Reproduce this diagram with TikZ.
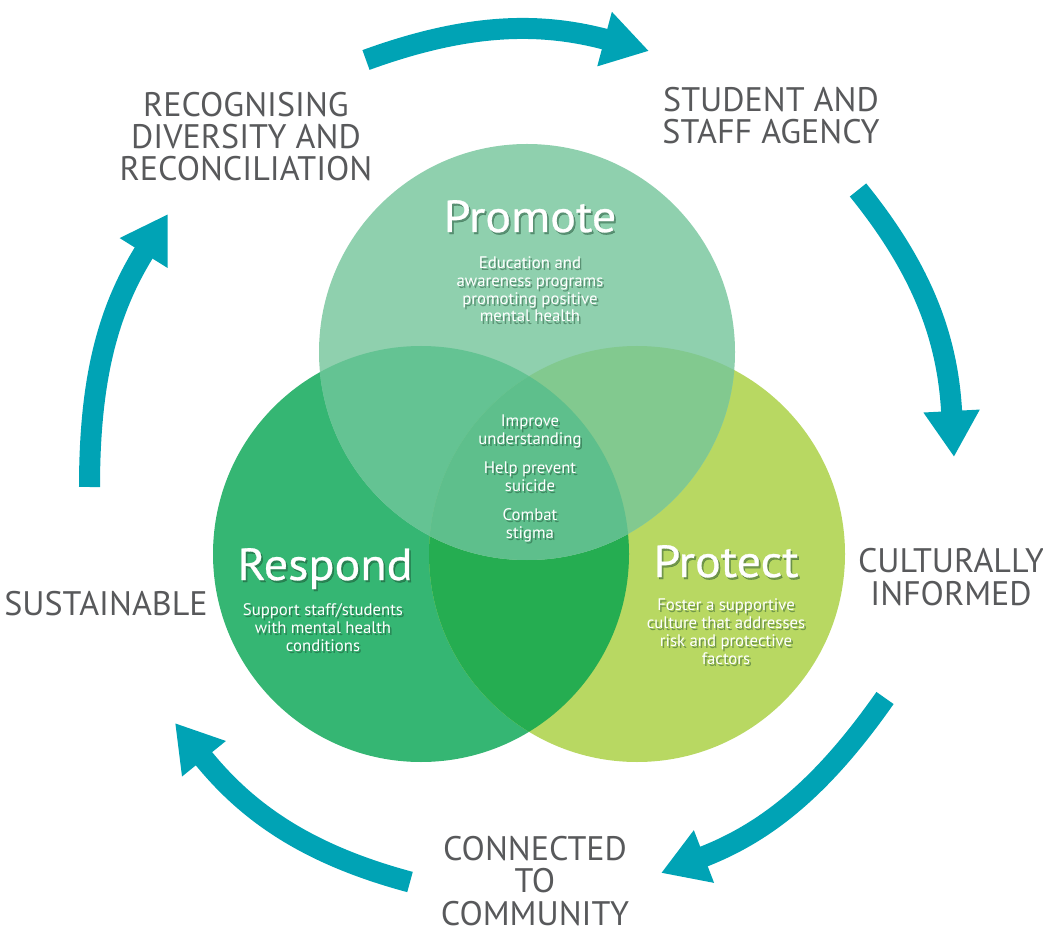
\documentclass[tikz,border=0pt]{standalone}
\usepackage{fontspec}
\setmainfont{PT Sans}
\newfontfamily\headfont[FakeStretch=1.07, FakeBold=0.6]{PT Sans}
\usetikzlibrary{arrows.meta, positioning}
\definecolor{cycleteal}{RGB}{0, 163, 181}
\definecolor{labelgray}{RGB}{88, 89, 91}
\definecolor{promotemint}{RGB}{143, 208, 174}
\definecolor{respondgreen}{RGB}{53, 182, 115}
\definecolor{protectlime}{RGB}{184, 216, 98}
\definecolor{respprotgreen}{RGB}{37, 173, 81}
\definecolor{promrespgreen}{RGB}{100, 195, 147}
\definecolor{promprotgreen}{RGB}{130, 201, 143}
\definecolor{coregreen}{RGB}{94, 191, 140}
\definecolor{shadowgreen}{RGB}{25, 70, 45}

% white text with a dark shadow underneath
\newcommand{\softlabel}[4]{%
  \node[#3, text=shadowgreen, opacity=0.45, xshift=1.2pt, yshift=-1.5pt] at (#2) {#4};
  \node[#3, text=white] (#1) at (#2) {#4};
}

\begin{document}
\begin{tikzpicture}[x=0.025cm, y=0.025cm,
  cyclearrow/.style={line width=0.525cm, cycleteal, -{Triangle[length=1.15cm, width=1.325cm]}},
  outerlabel/.style={text=labelgray, font=\fontsize{24.2}{22.8}\selectfont, align=center, anchor=base, inner sep=0pt},
  heading/.style={font=\headfont\fontsize{32}{34}\selectfont, anchor=base, inner sep=0pt},
  bodytext/.style={font=\fontsize{11.9}{12.6}\selectfont, align=center, anchor=base, inner sep=0pt}]

  \useasboundingbox (0,0) rectangle (1043,935);

  % ===== three overlapping circles =====
  \coordinate (promc) at (527,583);
  \coordinate (respc) at (421,381);
  \coordinate (protc) at (637,381);

  \fill[respondgreen] (respc) circle[radius=208];
  \fill[protectlime] (protc) circle[radius=208];
  \begin{scope}
    \clip (respc) circle[radius=208];
    \fill[respprotgreen] (protc) circle[radius=208];
  \end{scope}
  \fill[promotemint] (promc) circle[radius=208];
  \begin{scope}
    \clip (promc) circle[radius=208];
    \fill[promrespgreen] (respc) circle[radius=208];
    \fill[promprotgreen] (protc) circle[radius=208];
    \clip (respc) circle[radius=208];
    \fill[coregreen] (protc) circle[radius=208];
  \end{scope}

  % ===== cycle of arrows =====
  \coordinate (a1s) at (366,875);  \coordinate (a1e) at (649,884);
  \coordinate (a2s) at (858,745);  \coordinate (a2e) at (954,478);
  \coordinate (a3s) at (885,237);  \coordinate (a3e) at (661,62);
  \coordinate (a4s) at (410,53);   \coordinate (a4e) at (175,212);
  \coordinate (a5s) at (89.5,448); \coordinate (a5e) at (168,721);

  \draw[cyclearrow] (a1s) to[out=20, in=165] (a1e);
  \draw[cyclearrow] (a2s) to[out=-51, in=93] (a2e);
  \draw[cyclearrow] (a3s) to[out=235, in=21] (a3e);
  \draw[cyclearrow] (a4s) to[out=165, in=-51] (a4e);
  \draw[cyclearrow] (a5s) to[out=90, in=238] (a5e);

  % ===== outer principles (anchored at the last line) =====
  \node[outerlabel] (diversity) at (246,754) {RECOGNISING\\DIVERSITY AND\\RECONCILIATION};
  \node[outerlabel] (agency) at (771,791) {STUDENT AND\\STAFF AGENCY};
  \node[outerlabel] (cultural) at (951,330) {CULTURALLY\\INFORMED};
  \node[outerlabel] (sustain) at (106,320) {SUSTAINABLE};
  \node[outerlabel] (community) at (535,10) {CONNECTED\\TO\\COMMUNITY};

  % ===== circle texts =====
  \softlabel{promote}{530,703}{heading}{Promote}
  \softlabel{promotetxt}{530,613}{bodytext}{Education and\\awareness programs\\promoting positive\\mental health}
  \softlabel{core}{530,397}{bodytext}{Improve\\understanding\\[8pt]Help prevent\\suicide\\[8pt]Combat\\stigma}
  \softlabel{respond}{325,355}{heading}{Respond}
  \softlabel{respondtxt}{323,284}{bodytext}{Support staff/students\\with mental health\\conditions}
  \softlabel{protect}{726,358}{heading}{Protect}
  \softlabel{protecttxt}{726,271}{bodytext}{Foster a supportive\\culture that addresses\\risk and protective\\factors}

\end{tikzpicture}
\end{document}
